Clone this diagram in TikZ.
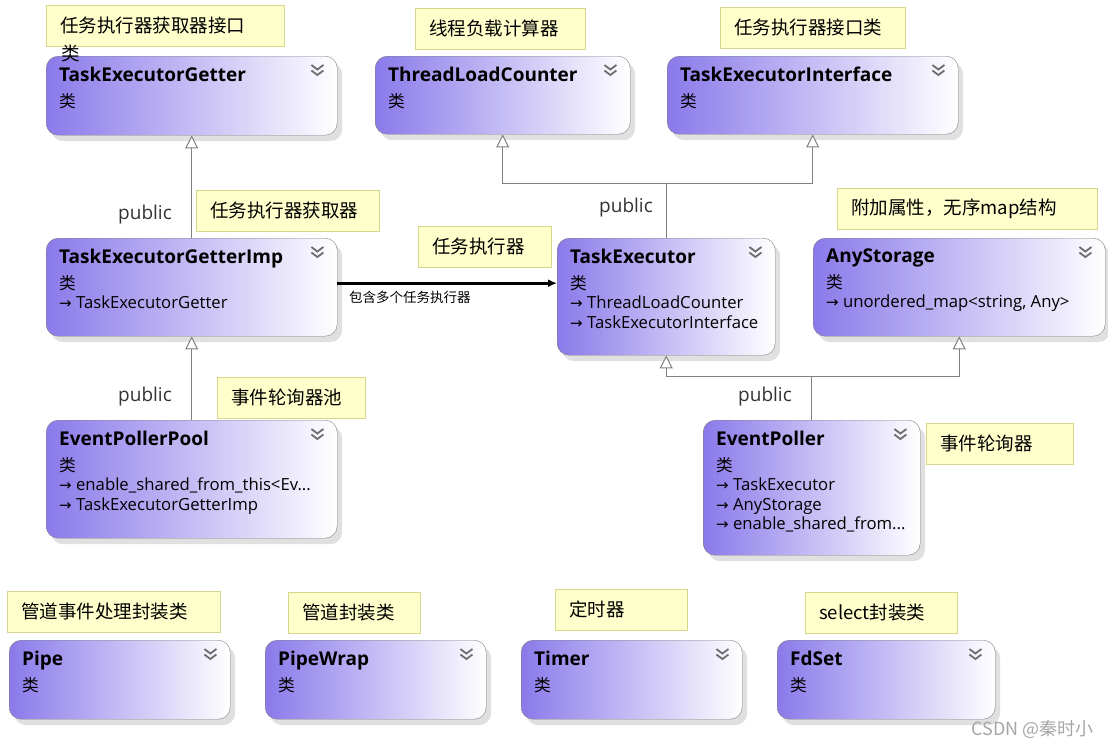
\documentclass[tikz,border=0pt]{standalone}
\usepackage{fontspec}
\setmainfont{Open Sans}
\newfontfamily\cjk{Noto Sans CJK SC}
\newfontfamily\symf{DejaVu Sans}
\usetikzlibrary{arrows.meta,shadows}
\definecolor{clspurple}{RGB}{138,122,234}
\definecolor{clsline}{RGB}{128,128,128}
\definecolor{notefill}{RGB}{255,255,204}
\definecolor{noteline}{RGB}{214,214,140}
\definecolor{inhline}{RGB}{128,128,128}
\definecolor{chevcol}{RGB}{110,110,110}
\newcommand\clsname[1]{{\bfseries\fontsize{19}{19.5}\selectfont #1}}
\newcommand\clsref{{\symf\fontsize{15}{19.5}\selectfont →}\ }

\begin{document}
\begin{tikzpicture}[x=1pt,y=-1pt,
   classbox/.style={draw=clsline,rounded corners=12pt,left color=clspurple,right color=white,
      anchor=north west,inner sep=0pt,
      drop shadow={shadow xshift=5pt,shadow yshift=-6pt,fill=black!12,opacity=1,draw=none}},
   classtext/.style={anchor=north west,align=left,inner sep=0pt,font=\fontsize{16.7}{19.5}\selectfont},
   notebox/.style={draw=noteline,fill=notefill,anchor=north west,inner xsep=14pt,inner ysep=0pt,
      minimum height=41pt,align=left,font=\cjk\fontsize{18.5}{20}\selectfont},
   inherit/.style={draw=inhline,line width=1pt,-{Triangle[length=13pt,width=13pt,fill=white]}},
   assoc/.style={line width=2.7pt,-{Latex[length=9pt,width=8pt]}},
   pubtext/.style={anchor=east,inner sep=0pt,text=black!80,font=\fontsize{19}{21}\selectfont},
   chevron/.pic={\draw[chevcol,line width=1.8pt] (-6,-8)--(0,-3.5)--(6,-8) (-6,-2.5)--(0,2)--(6,-2.5);}]
\useasboundingbox (0,0) rectangle (1108,747);

\node[classbox,minimum width=291pt,minimum height=79pt] (getter) at (46,56) {};
\node[classbox,minimum width=255pt,minimum height=78pt] (tlc) at (375,56) {};
\node[classbox,minimum width=291pt,minimum height=78pt] (tei) at (667,56) {};
\node[classbox,minimum width=291pt,minimum height=98pt] (gimp) at (46,238) {};
\node[classbox,minimum width=218pt,minimum height=117pt] (texec) at (557,238) {};
\node[classbox,minimum width=292pt,minimum height=98pt] (astore) at (813,238) {};
\node[classbox,minimum width=291pt,minimum height=118pt] (pool) at (46,420) {};
\node[classbox,minimum width=217pt,minimum height=135pt] (poller) at (703,420) {};
\node[classbox,minimum width=221pt,minimum height=79pt] (pipe) at (9,640) {};
\node[classbox,minimum width=221pt,minimum height=79pt] (pwrap) at (265,640) {};
\node[classbox,minimum width=221pt,minimum height=79pt] (timer) at (521,640) {};
\node[classbox,minimum width=218pt,minimum height=79pt] (fdset) at (777,640) {};

\node[classtext] at ([shift={(13pt,-11pt)}]getter.north west) {\clsname{TaskExecutorGetter}\\[6pt]{\cjk 类}};
\node[classtext] at ([shift={(13pt,-11pt)}]tlc.north west) {\clsname{ThreadLoadCounter}\\[6pt]{\cjk 类}};
\node[classtext] at ([shift={(13pt,-11pt)}]tei.north west) {\clsname{TaskExecutorInterface}\\[6pt]{\cjk 类}};
\node[classtext] at ([shift={(13pt,-11pt)}]gimp.north west) {\clsname{TaskExecutorGetterImp}\\[6pt]{\cjk 类}\\
   \clsref TaskExecutorGetter};
\node[classtext] at ([shift={(13pt,-11pt)}]texec.north west) {\clsname{TaskExecutor}\\[6pt]{\cjk 类}\\
   \clsref ThreadLoadCounter\\\clsref TaskExecutorInterface};
\node[classtext] at ([shift={(13pt,-11pt)}]astore.north west) {\clsname{AnyStorage}\\[6pt]{\cjk 类}\\
   \clsref unordered\_map<string, Any>};
\node[classtext] at ([shift={(13pt,-11pt)}]pool.north west) {\clsname{EventPollerPool}\\[6pt]{\cjk 类}\\
   \clsref enable\_shared\_from\_this<Ev...\\\clsref TaskExecutorGetterImp};
\node[classtext] at ([shift={(13pt,-11pt)}]poller.north west) {\clsname{EventPoller}\\[6pt]{\cjk 类}\\
   \clsref TaskExecutor\\\clsref AnyStorage\\\clsref enable\_shared\_from...};
\node[classtext] at ([shift={(13pt,-11pt)}]pipe.north west) {\clsname{Pipe}\\[6pt]{\cjk 类}};
\node[classtext] at ([shift={(13pt,-11pt)}]pwrap.north west) {\clsname{PipeWrap}\\[6pt]{\cjk 类}};
\node[classtext] at ([shift={(13pt,-11pt)}]timer.north west) {\clsname{Timer}\\[6pt]{\cjk 类}};
\node[classtext] at ([shift={(13pt,-11pt)}]fdset.north west) {\clsname{FdSet}\\[6pt]{\cjk 类}};

\pic at ([shift={(-20pt,-17pt)}]getter.north east) {chevron};
\pic at ([shift={(-20pt,-17pt)}]tlc.north east) {chevron};
\pic at ([shift={(-20pt,-17pt)}]tei.north east) {chevron};
\pic at ([shift={(-20pt,-17pt)}]gimp.north east) {chevron};
\pic at ([shift={(-20pt,-17pt)}]texec.north east) {chevron};
\pic at ([shift={(-20pt,-17pt)}]astore.north east) {chevron};
\pic at ([shift={(-20pt,-17pt)}]pool.north east) {chevron};
\pic at ([shift={(-20pt,-17pt)}]poller.north east) {chevron};
\pic at ([shift={(-20pt,-17pt)}]pipe.north east) {chevron};
\pic at ([shift={(-20pt,-17pt)}]pwrap.north east) {chevron};
\pic at ([shift={(-20pt,-17pt)}]timer.north east) {chevron};
\pic at ([shift={(-20pt,-17pt)}]fdset.north east) {chevron};

\node[notebox,text width=210pt] (ngetter) at (46,5) {任务执行器获取器接口};
\node[anchor=west,inner sep=0pt,font=\cjk\fontsize{18.5}{20}\selectfont] (ngetterb) at (61,53) {类};
\node[notebox,text width=142pt] (ntlc) at (415,8) {线程负载计算器};
\node[notebox,text width=157pt] (ntei) at (720,7) {任务执行器接口类};
\node[notebox,text width=155pt] (ngimp) at (196,190) {任务执行器获取器};
\node[notebox,text width=105pt] (ntexec) at (418,226) {任务执行器};
\node[notebox,text width=232pt] (nastore) at (837,188) {附加属性，无序map结构};
\node[notebox,text width=120pt] (npool) at (217,377) {事件轮询器池};
\node[notebox,text width=119pt] (npoller) at (926,423) {事件轮询器};
\node[notebox,text width=185pt] (npipe) at (7,591) {管道事件处理封装类};
\node[notebox,text width=104pt] (npwrap) at (288,592) {管道封装类};
\node[notebox,text width=104pt] (ntimer) at (555,589) {定时器};
\node[notebox,text width=124pt] (nfdset) at (805,592) {select封装类};

\coordinate (tejoin) at ([yshift=55pt]texec.north);
\coordinate (epjoin) at ([yshift=44pt]poller.north);
\coordinate (gout) at ([yshift=4pt]gimp.east);
\draw[inherit] (gimp.north) -- (getter.south);
\draw[inherit] (pool.north) -- (gimp.south);
\draw[inherit] (texec.north) -- (tejoin) -| (tlc.south);
\draw[inherit] (tejoin) -| (tei.south);
\draw[inherit] (poller.north) -- (epjoin) -| (texec.south);
\draw[inherit] (epjoin) -| (astore.south);
\draw[assoc] (gout) -- (gout -| texec.west)
   node[pos=0,anchor=north west,xshift=7pt,yshift=-3pt,font=\cjk\fontsize{13.5}{15}\selectfont] {包含多个任务执行器};

\node[pubtext] (pubgetter) at (172,215) {public};
\node[pubtext] (pubtexec) at (653,208) {public};
\node[pubtext] (pubpool) at (172,397) {public};
\node[pubtext] (pubpoller) at (792,397) {public};
\node[anchor=east,inner sep=0pt,text=black!35,font=\cjk\fontsize{18}{20}\selectfont] (mark) at (1094,729) {CSDN @秦时小};
\end{tikzpicture}
\end{document}
